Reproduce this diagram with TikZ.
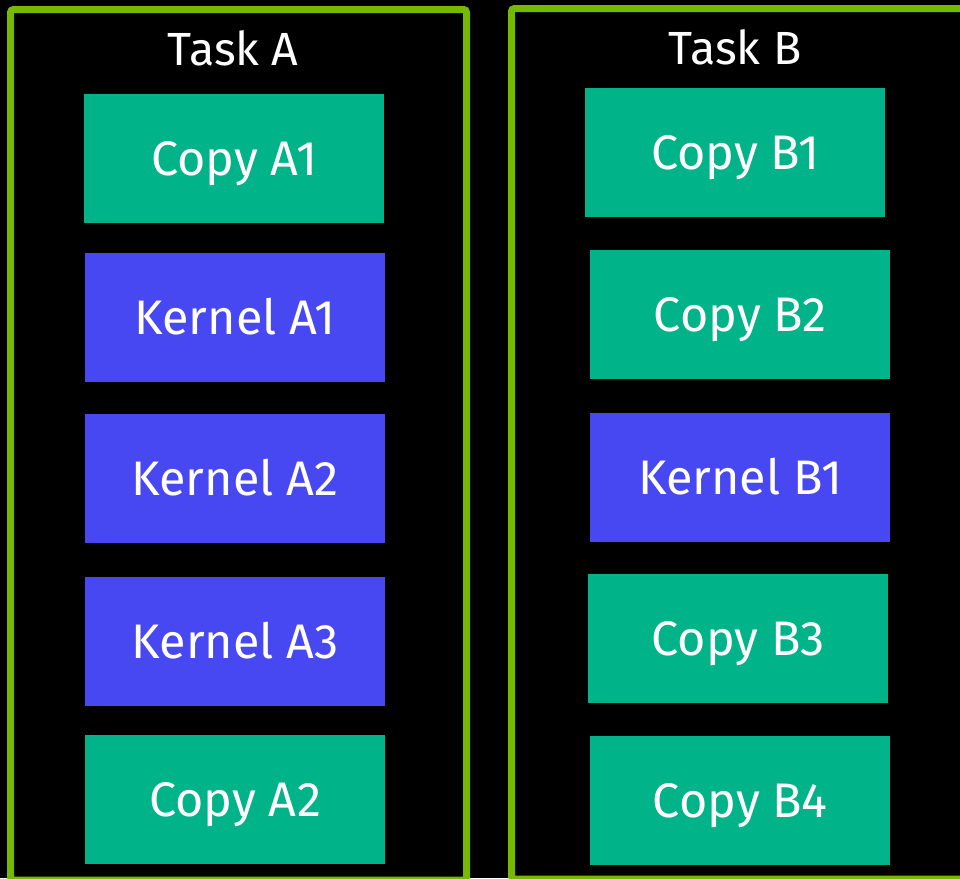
\documentclass[tikz,border=0pt]{standalone}
\usepackage{fontspec}
\setmainfont{Fira Sans}
\definecolor{nvgreen}{RGB}{118,185,0}
\definecolor{copyc}{RGB}{0,179,136}
\definecolor{kernc}{RGB}{72,72,242}
\begin{document}
\begin{tikzpicture}[x=1pt,y=-1pt,
  frame/.style={draw=nvgreen,line width=7pt,rounded corners=3pt},
  blk/.style={anchor=north west,minimum width=300pt,minimum height=128.5pt,inner sep=0pt,text=white,font=\fontsize{48.5}{54}\selectfont,text height=33.5pt,text depth=0pt},
  copyblk/.style={blk,fill=copyc},
  kernblk/.style={blk,fill=kernc},
  title/.style={text=white,font=\fontsize{46.5}{52}\selectfont,inner sep=0pt,text height=32pt,text depth=0pt}]
\fill[black] (0,0) rectangle (960,878);
\useasboundingbox (0,0) rectangle (960,878);
\draw[frame] (10.5,9.5) rectangle (466.5,880);
\draw[frame] (511.5,8.5) rectangle (975,879);
\node[title] (ta) at (233,49) {Task A};
\node[title] (tb) at (735,48) {Task B};
\node[copyblk] (ca1) at (84,94) {Copy A1};
\node[kernblk] (ka1) at (85,253) {Kernel A1};
\node[kernblk] (ka2) at (85,414) {Kernel A2};
\node[kernblk] (ka3) at (85,577) {Kernel A3};
\node[copyblk] (ca2) at (85,735) {Copy A2};
\node[copyblk] (cb1) at (585,88) {Copy B1};
\node[copyblk] (cb2) at (590,250) {Copy B2};
\node[kernblk] (kb1) at (590,413) {Kernel B1};
\node[copyblk] (cb3) at (588,574) {Copy B3};
\node[copyblk] (cb4) at (590,736) {Copy B4};
\end{tikzpicture}
\end{document}
